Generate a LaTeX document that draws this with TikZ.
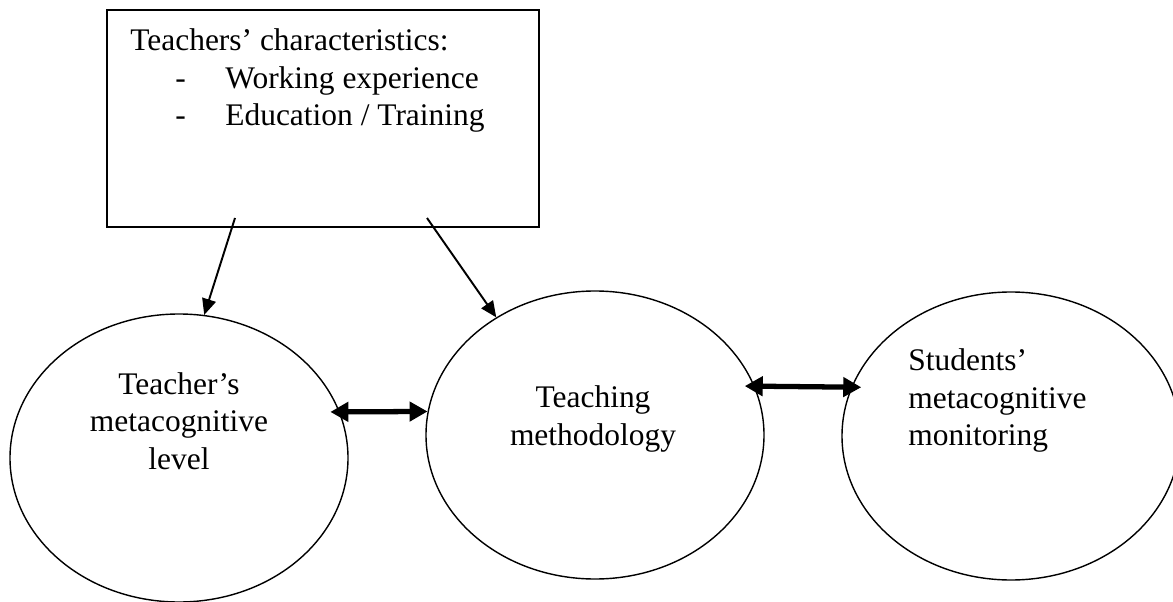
\documentclass[tikz,border=0pt]{standalone}
\usepackage{fontspec}
\setmainfont{Liberation Serif}
\usetikzlibrary{shapes.geometric,arrows.meta}
\begin{document}
\begin{tikzpicture}
\tikzset{
	e/.style={ellipse, draw=black, line width=0.8pt, minimum width=6.76cm, minimum height=5.76cm, inner sep=0pt},
	t/.style={inner sep=0pt, font=\fontsize{17.9}{21.3}\selectfont},
	s/.style={->, >={Triangle[length=0.32cm,width=0.28cm]}, line width=1.1pt},
	d/.style={<->, >={Triangle[length=0.36cm,width=0.38cm]}, line width=3pt}
}
\useasboundingbox (0,0) rectangle (23.46,-12.04);

% box
\node[draw=black, line width=1.3pt, minimum width=8.64cm, minimum height=4.34cm, inner sep=0pt] (chars) at (6.46,-2.37) {};
\node[t, align=left, anchor=north west] (chars_txt) at (2.6,-0.57) {Teachers' characteristics:\\
\makebox[1.9cm][l]{\hspace*{0.9cm}-}Working experience\\
\makebox[1.9cm][l]{\hspace*{0.9cm}-}Education / Training};

% ellipses
\node[e] (teacher) at (3.58,-9.16) {};
\node[e] (method) at (11.9,-8.7) {};
\node[e] (students) at (20.22,-8.72) {};

% texts
\node[t, align=center] (teacher_txt) at (3.58,-8.42) {Teacher's\\ metacognitive\\ level};
\node[t, align=center] (method_txt) at (11.86,-8.38) {Teaching\\ methodology};
\node[t, align=left, anchor=west] (students_txt) at (18.16,-8.01) {Students'\\ metacognitive\\ monitoring};

% box -- ellipses
\coordinate (c1) at (4.70,-4.36);
\coordinate (c2) at (8.54,-4.36);
\draw[s] (c1) -- (teacher.80);
\draw[s] (c2) -- (method.130);

% double arrows
\draw[d, shorten <=-0.19cm] (teacher.16) -- (method.172);
\draw[d, shorten <=-0.2cm, shorten >=-0.2cm] (method.17) -- (students.163);

\end{tikzpicture}
\end{document}
